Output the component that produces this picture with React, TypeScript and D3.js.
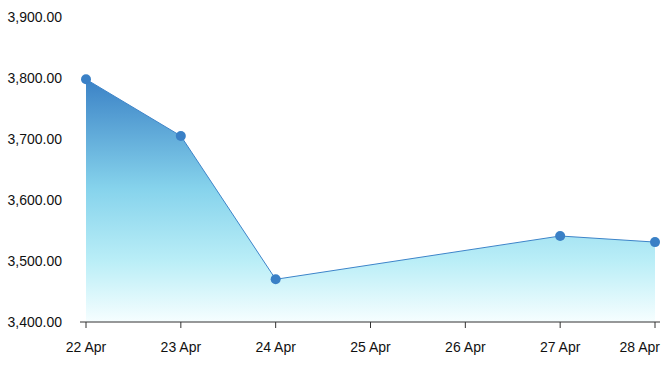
import React from "react";
import * as d3 from "d3";

const dates = ["2024-04-22", "2024-04-23", "2024-04-24", "2024-04-27", "2024-04-28"];
const values = [3798, 3705, 3470, 3541, 3531];
const yTicks = [3400, 3500, 3600, 3700, 3800, 3900];

const W = 670;
const H = 368;

export default function App() {
  const parse = d3.timeParse("%Y-%m-%d");
  const data = dates.map((d, i) => ({ date: parse(d) as Date, value: values[i] }));
  const x = d3
    .scaleTime()
    .domain([parse("2024-04-22") as Date, parse("2024-04-28") as Date])
    .range([86, 655]);
  const y = d3.scaleLinear().domain([3400, 3900]).range([322, 17]);
  const xTicks = d3.timeDay.range(x.domain()[0], d3.timeDay.offset(x.domain()[1], 1));
  const fmtX = d3.timeFormat("%-d %b");
  const fmtY = d3.format(",.2f");

  const line = d3
    .line<{ date: Date; value: number }>()
    .x((d) => x(d.date))
    .y((d) => y(d.value));
  const area = d3
    .area<{ date: Date; value: number }>()
    .x((d) => x(d.date))
    .y0(y(3400))
    .y1((d) => y(d.value));

  const maxY = y(d3.max(values) as number);

  return (
    <svg
      width={W}
      height={H}
      style={{ position: "absolute", left: 0, top: 0, fontFamily: "'Liberation Sans', Arial, sans-serif" }}
    >
      <defs>
        <linearGradient id="ag" gradientUnits="userSpaceOnUse" x1="0" x2="0" y1={maxY} y2={y(3400)}>
          <stop offset="0%" stopColor="#3b82c6" />
          <stop offset="45%" stopColor="#86d3ec" />
          <stop offset="75%" stopColor="#baeef7" />
          <stop offset="100%" stopColor="#f6feff" />
        </linearGradient>
      </defs>
      <path d={area(data) || ""} fill="url(#ag)" />
      <path d={line(data) || ""} fill="none" stroke="#3d84c9" strokeWidth={1} />
      {data.map((d, i) => (
        <circle key={i} cx={x(d.date)} cy={y(d.value)} r={5} fill="#3a80c6" />
      ))}
      {yTicks.map((t) => (
        <text key={t} x={62} y={y(t)} dy="0.35em" textAnchor="end" fontSize={14} fill="#111">
          {fmtY(t)}
        </text>
      ))}
      <line x1={80} x2={660} y1={y(3400)} y2={y(3400)} stroke="#333" strokeWidth={1} />
      {xTicks.map((t, i) => {
        const last = i === xTicks.length - 1;
        return (
          <g key={i} transform={`translate(${x(t)},${y(3400)})`}>
            <line y1={0} y2={6} stroke="#333" strokeWidth={1} />
            <text
              x={last ? 660 - x(t) : 0}
              y={25}
              dy="0.35em"
              textAnchor={last ? "end" : "middle"}
              fontSize={14}
              fill="#111"
            >
              {fmtX(t)}
            </text>
          </g>
        );
      })}
    </svg>
  );
}
